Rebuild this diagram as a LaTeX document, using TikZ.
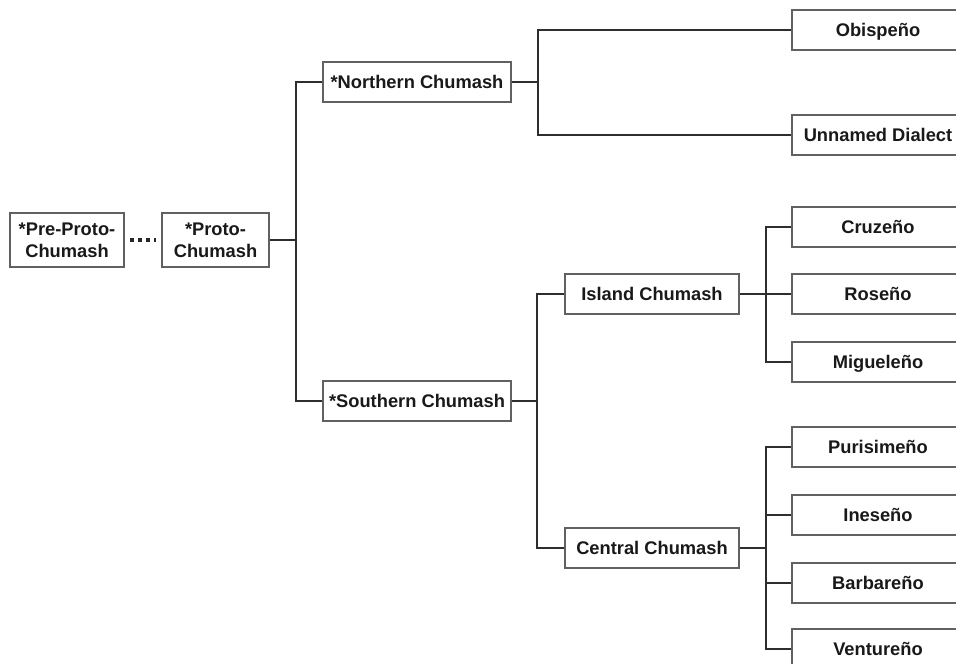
\documentclass[tikz,border=0pt]{standalone}
\usepackage{fontspec}
\setmainfont{Liberation Sans}
\begin{document}
\begin{tikzpicture}[x=1pt,y=-1pt,
  box/.style={draw=black!62, line width=2pt, fill=white, inner sep=0pt, align=center,
    font=\bfseries\fontsize{18.3}{22}\selectfont, text=black!90},
  onebox/.style={box, text height=13.2pt, text depth=0pt},
  midbox/.style={onebox, minimum width=188pt, minimum height=40pt},
  subbox/.style={onebox, minimum width=174pt, minimum height=40pt},
  leafbox/.style={onebox, minimum width=172pt, minimum height=40pt},
  rootbox/.style={box, minimum height=54pt},
  link/.style={draw=black!82, line width=2pt}]
\useasboundingbox (0,0) rectangle (956,664);
\clip (0,0) rectangle (956,664);
\fill[white] (0,0) rectangle (956,664);
% nodes
\node[rootbox, minimum width=114pt] (pre) at (67,240) {*Pre-Proto-\\Chumash};
\node[rootbox, minimum width=107pt] (proto) at (215.5,240) {*Proto-\\Chumash};
\node[midbox] (north) at (417,82) {*Northern Chumash};
\node[midbox] (south) at (417,401) {*Southern Chumash};
\node[subbox] (island) at (652,294) {Island Chumash};
\node[subbox] (central) at (652,548) {Central Chumash};
\node[leafbox] (obispeno) at (878,30) {Obispeño};
\node[leafbox] (unnamed) at (878,135) {Unnamed Dialect};
\node[leafbox] (cruzeno) at (878,227) {Cruzeño};
\node[leafbox] (roseno) at (878,294) {Roseño};
\node[leafbox] (migueleno) at (878,362) {Migueleño};
\node[leafbox] (purisimeno) at (878,447) {Purisimeño};
\node[leafbox] (ineseno) at (878,515) {Ineseño};
\node[leafbox] (barbareno) at (878,583) {Barbareño};
\node[leafbox] (ventureno) at (878,649) {Ventureño};
% junction points
\coordinate (j1) at (296,240);
\coordinate (j2) at (538,82);
\coordinate (j3) at (537,401);
\coordinate (j4) at (766,294);
\coordinate (j5) at (766,548);
% connectors
\draw[draw=black!85, line width=4pt, dash pattern=on 4pt off 4pt, shorten <=5pt, shorten >=5pt]
  (pre.east) -- (proto.west);
\draw[link] (proto.east) -- (j1);
\draw[link] (north.west) -| (j1) |- (south.west);
\draw[link] (north.east) -- (j2);
\draw[link] (obispeno.west) -| (j2) |- (unnamed.west);
\draw[link] (south.east) -- (j3);
\draw[link] (island.west) -| (j3) |- (central.west);
\draw[link] (island.east) -- (j4);
\draw[link] (cruzeno.west) -| (j4) |- (migueleno.west);
\draw[link] (j4) -- (roseno.west);
\draw[link] (central.east) -- (j5);
\draw[link] (purisimeno.west) -| (j5) |- (ventureno.west);
\draw[link] (ineseno.west) -| (j5);
\draw[link] (barbareno.west) -| (j5);
\end{tikzpicture}
\end{document}
